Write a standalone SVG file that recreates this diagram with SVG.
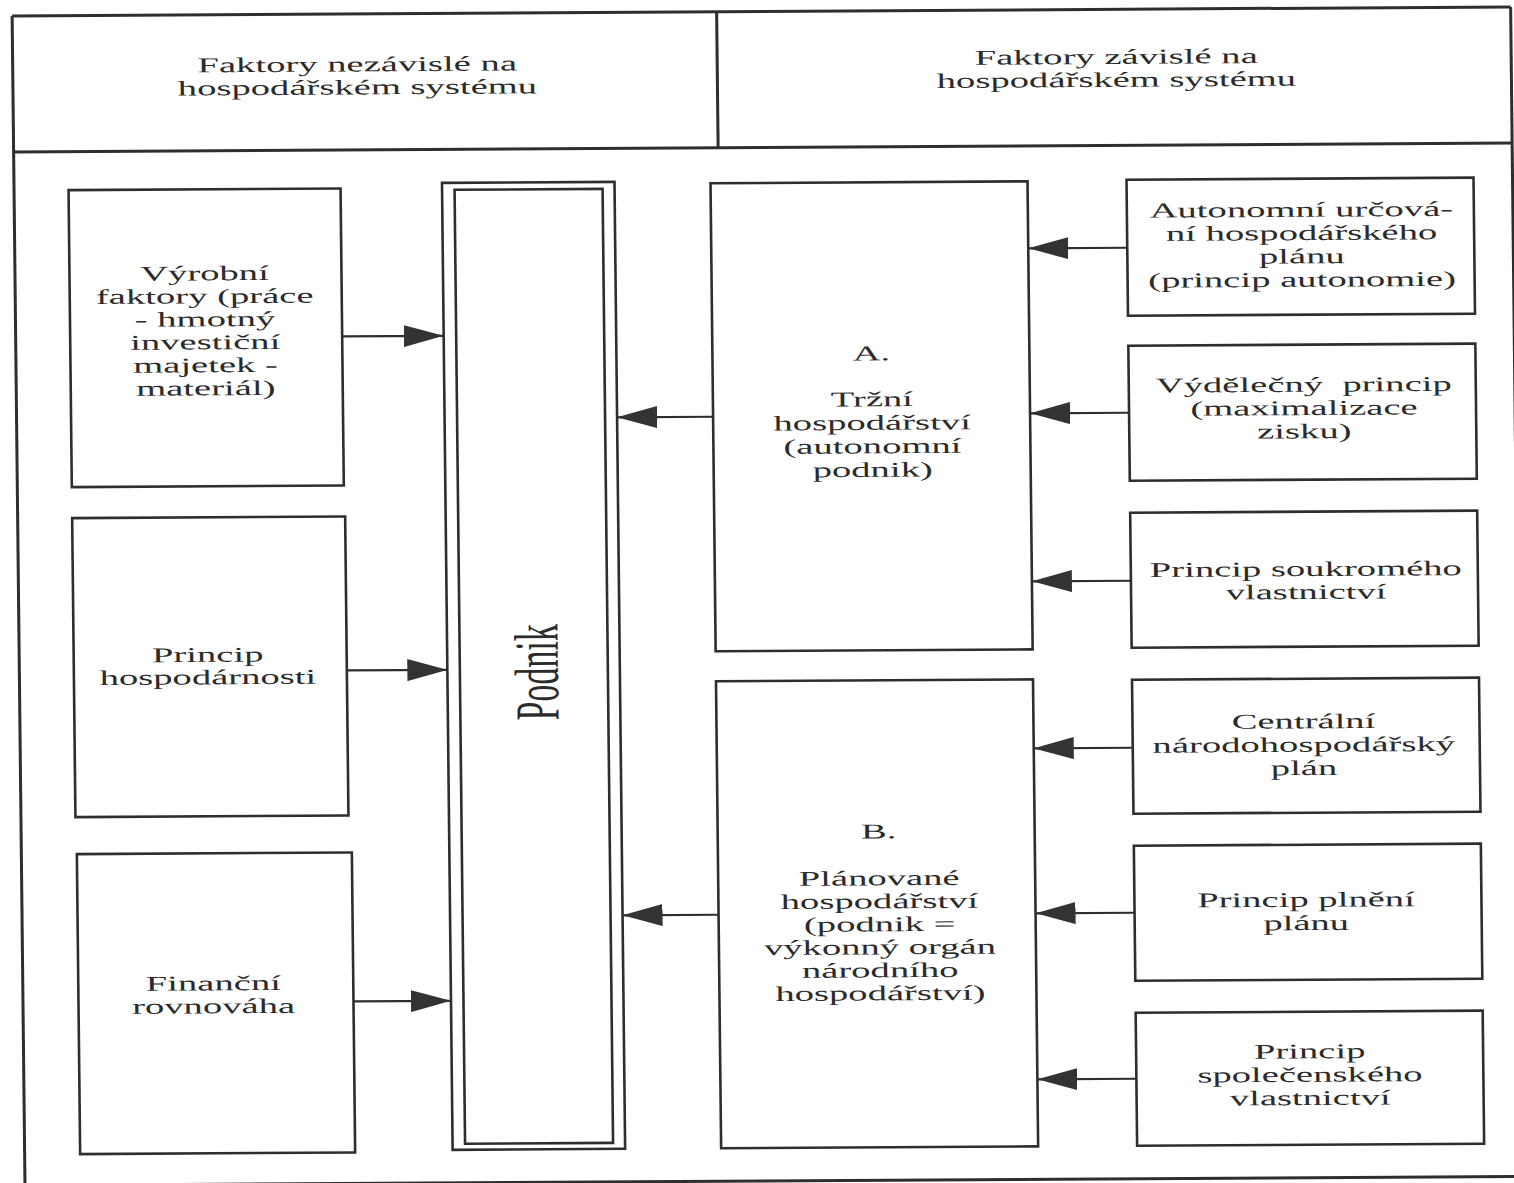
<svg xmlns="http://www.w3.org/2000/svg" width="1514" height="1183" viewBox="0 0 1514 1183">
  <defs>
    <style>
      .frame { fill: none; stroke: #2e2e2e; stroke-width: 3; }
      .box { fill: none; stroke: #2e2e2e; stroke-width: 2.6; }
      .conn { fill: none; stroke: #2e2e2e; stroke-width: 2.2; marker-end: url(#arrow); }
      .t { font-family: "Liberation Serif", "Times New Roman", serif; font-size: 21px; fill: #2b2b2b; text-anchor: middle; }
      .big { font-family: "Liberation Serif", "Times New Roman", serif; font-size: 34px; fill: #2b2b2b; text-anchor: middle; }
    </style>
    <marker id="arrow" markerUnits="userSpaceOnUse" markerWidth="40" markerHeight="22" refX="40" refY="11" orient="auto">
      <path d="M0,0 L40,11 L0,22 Z" fill="#333"/>
    </marker>
  </defs>
  <rect x="0" y="0" width="1514" height="1183" fill="#ffffff"/>
  <g transform="matrix(1 -0.006 0.011 1 -6.5 4.54)">
    <g id="frame">
      <line class="frame" x1="18.5" y1="11.5" x2="1517" y2="11.5"/>
      <line class="frame" x1="18.5" y1="147.5" x2="1517" y2="147.5"/>
      <line class="frame" x1="18.5" y1="11.5" x2="18.5" y2="1181"/>
      <line class="frame" x1="18.5" y1="1181" x2="1517" y2="1181"/>
      <line class="frame" x1="1517" y1="11.5" x2="1517" y2="1181"/>
      <line class="frame" x1="723" y1="11.5" x2="723" y2="147.5"/>
    </g>
    <g id="header-left">
      <text class="t" transform="translate(363,0) scale(1.84 1)"><tspan x="0" y="69">Faktory nezávislé na</tspan><tspan x="0" y="92">hospodářském systému</tspan></text>
    </g>
    <g id="header-right">
      <text class="t" transform="translate(1122,0) scale(1.84 1)"><tspan x="0" y="66">Faktory závislé na</tspan><tspan x="0" y="89">hospodářském systému</tspan></text>
    </g>

    <g id="vyrobni-faktory">
      <rect class="box" x="73" y="186" width="272" height="297"/>
      <text class="t" transform="translate(208,0) scale(1.84 1)"><tspan x="0" y="277">Výrobní</tspan><tspan x="0" y="300">faktory (práce</tspan><tspan x="0" y="323">- hmotný</tspan><tspan x="0" y="346">investiční</tspan><tspan x="0" y="369">majetek -</tspan><tspan x="0" y="392">materiál)</tspan></text>
    </g>
    <g id="princip-hospodarnosti">
      <rect class="box" x="73" y="514" width="273" height="299"/>
      <text class="t" transform="translate(207,0) scale(1.84 1)"><tspan x="0" y="658.5">Princip</tspan><tspan x="0" y="681">hospodárnosti</tspan></text>
    </g>
    <g id="financni-rovnovaha">
      <rect class="box" x="74" y="850" width="275" height="300"/>
      <text class="t" transform="translate(209,0) scale(1.84 1)"><tspan x="0" y="987">Finanční</tspan><tspan x="0" y="1010">rovnováha</tspan></text>
    </g>

    <g id="podnik">
      <rect class="box" x="446.5" y="181" width="172.5" height="967"/>
      <rect class="box" x="459" y="188" width="148" height="954"/>
      <text class="big" transform="translate(557,671) scale(1.84 1) rotate(-90)" x="0" y="0">Podnik</text>
    </g>

    <g id="trzni-hospodarstvi">
      <rect class="box" x="715" y="183" width="317" height="468"/>
      <text class="t" transform="translate(874,0) scale(1.84 1)"><tspan x="0" y="361">A.</tspan><tspan x="0" y="407">Tržní</tspan><tspan x="0" y="430.5">hospodářství</tspan><tspan x="0" y="454">(autonomní</tspan><tspan x="0" y="477.5">podnik)</tspan></text>
    </g>
    <g id="planovane-hospodarstvi">
      <rect class="box" x="715" y="681" width="317" height="467"/>
      <text class="t" transform="translate(876,0) scale(1.84 1)"><tspan x="0" y="839">B.</tspan><tspan x="0" y="886">Plánované</tspan><tspan x="0" y="909">hospodářství</tspan><tspan x="0" y="932">(podnik =</tspan><tspan x="0" y="955">výkonný orgán</tspan><tspan x="0" y="978">národního</tspan><tspan x="0" y="1001">hospodářství)</tspan></text>
    </g>

    <g id="autonomni-urcovani">
      <rect class="box" x="1131" y="182" width="347" height="136"/>
      <text class="t" transform="translate(1305.5,0) scale(1.84 1)"><tspan x="0" y="220">Autonomní určová-</tspan><tspan x="0" y="243.3">ní hospodářského</tspan><tspan x="0" y="266.6">plánu</tspan><tspan x="0" y="290">(princip autonomie)</tspan></text>
    </g>
    <g id="vydelecny-princip">
      <rect class="box" x="1131" y="348" width="347" height="135"/>
      <text class="t" xml:space="preserve" transform="translate(1306,0) scale(1.84 1)"><tspan x="0" y="395">Výdělečný  princip</tspan><tspan x="0" y="418.3">(maximalizace</tspan><tspan x="0" y="441.6">zisku)</tspan></text>
    </g>
    <g id="soukrome-vlastnictvi">
      <rect class="box" x="1131" y="515" width="347" height="135"/>
      <text class="t" transform="translate(1306,0) scale(1.84 1)"><tspan x="0" y="579.3">Princip soukromého</tspan><tspan x="0" y="602.3">vlastnictví</tspan></text>
    </g>
    <g id="centralni-plan">
      <rect class="box" x="1131" y="682" width="347" height="134"/>
      <text class="t" transform="translate(1302,0) scale(1.84 1)"><tspan x="0" y="731.6">Centrální</tspan><tspan x="0" y="755">národohospodářský</tspan><tspan x="0" y="778.3">plán</tspan></text>
    </g>
    <g id="plneni-planu">
      <rect class="box" x="1131" y="848" width="347" height="135"/>
      <text class="t" transform="translate(1302.5,0) scale(1.84 1)"><tspan x="0" y="910">Princip plnění</tspan><tspan x="0" y="933.3">plánu</tspan></text>
    </g>
    <g id="spolecenske-vlastnictvi">
      <rect class="box" x="1131" y="1015" width="347" height="133"/>
      <text class="t" transform="translate(1304.6,0) scale(1.84 1)"><tspan x="0" y="1061.6">Princip</tspan><tspan x="0" y="1085">společenského</tspan><tspan x="0" y="1108.3">vlastnictví</tspan></text>
    </g>

    <g id="connectors">
      <line class="conn" x1="345" y1="334" x2="446.5" y2="334"/>
      <line class="conn" x1="346" y1="668" x2="446.5" y2="668"/>
      <line class="conn" x1="349" y1="999" x2="446.5" y2="999"/>
      <line class="conn" x1="715" y1="416.5" x2="619" y2="416.5"/>
      <line class="conn" x1="715" y1="914.5" x2="619" y2="914.5"/>
      <line class="conn" x1="1131" y1="250" x2="1032" y2="250"/>
      <line class="conn" x1="1131" y1="415" x2="1032" y2="415"/>
      <line class="conn" x1="1131" y1="583" x2="1032" y2="583"/>
      <line class="conn" x1="1131" y1="750" x2="1032" y2="750"/>
      <line class="conn" x1="1131" y1="915" x2="1032" y2="915"/>
      <line class="conn" x1="1131" y1="1081" x2="1032" y2="1081"/>
    </g>
  </g>
</svg>
